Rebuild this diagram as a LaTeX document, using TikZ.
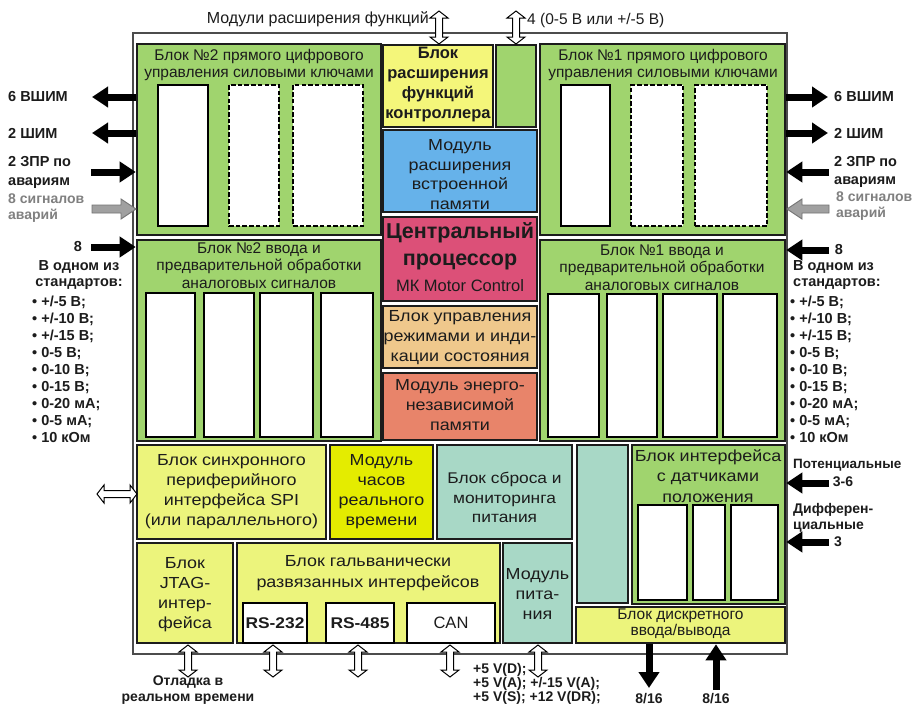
\documentclass[tikz,border=0pt]{standalone}
\usepackage{fontspec}
\setmainfont{Liberation Sans}
\newfontfamily\sw[FakeStretch=1.12]{Liberation Sans}
\usetikzlibrary{arrows.meta}
\definecolor{cgreen}{HTML}{A0D46E}
\definecolor{cyel}{HTML}{F4F67A}
\definecolor{cspi}{HTML}{ECF47C}
\definecolor{cclk}{HTML}{E4EC00}
\definecolor{cblue}{HTML}{66B2EA}
\definecolor{cpink}{HTML}{DC5078}
\definecolor{ctan}{HTML}{EFC88C}
\definecolor{corg}{HTML}{E8846A}
\definecolor{cteal}{HTML}{A8D8C6}
\definecolor{cdark}{HTML}{1C1C1C}
\definecolor{cgray}{HTML}{A0A0A0}
\newcommand\fs[2]{\fontsize{#1}{#2}\selectfont}
\newcommand\bx[7]{\node[#6, minimum width={(#4-#2)*1pt}, minimum height={(#5-#3)*1pt}] (#1) at ({(#2+#4)/2},{(#3+#5)/2}) {#7};}
\newcommand\dblv[3]{\draw[hol] (#1,#2) -- ++(9,7) -- ++(-5.5,0) -- ({#1+3.5},{#3-7}) -- ++(5.5,0) -- (#1,#3) -- ++(-9,-7) -- ++(5.5,0) -- ({#1-3.5},{#2+7}) -- ++(-5.5,0) -- cycle;}
\newcommand\dblh[3]{\draw[hol] (#1,#3) -- ++(7,-9) -- ++(0,5.5) -- ({#2-7},{#3-3.5}) -- ++(0,-5.5) -- (#2,#3) -- ++(-7,9) -- ++(0,-5.5) -- ({#1+7},{#3+3.5}) -- ++(0,5.5) -- cycle;}
\begin{document}
\begin{tikzpicture}[x=1pt,y=-1pt,
  blk/.style={draw=cdark, line width=2.6pt, inner sep=0pt, align=center, text=cdark},
  wbox/.style={draw=black, line width=2.8pt, fill=white, inner sep=0pt, text=cdark},
  dbox/.style={wbox, dash pattern=on 4.5pt off 2.2pt},
  bt/.style={inner sep=0pt, align=center, text=cdark},
  ttl/.style={bt, font=\fs{15.5}{16.5}},
  lab/.style={inner sep=0pt, align=left, text=cdark, font=\bfseries\fs{14.5}{16.5}},
  barr/.style={draw=black, line width=7pt, -{Triangle[width=20pt,length=16pt]}},
  gar/.style={draw=black!55, fill=cgray, line width=0.9pt, line join=miter},
  hol/.style={draw=black, fill=white, line width=1pt, line join=miter}]
\useasboundingbox (0,0) rectangle (914,707);
\fill[white] (0,0) rectangle (914,707);
\bx{frame}{133}{33}{787}{654}{draw=black!70, line width=1.8pt, fill=white}{}
% upper part
\bx{d2}{137}{44}{381}{235}{blk, fill=cgreen}{}
\bx{d1}{540}{44}{785}{235}{blk, fill=cgreen}{}
\bx{ext}{383}{45}{493}{127}{blk, fill=cyel}{}
\bx{gsm}{496}{45}{536}{127}{blk, fill=cgreen}{}
\bx{mem}{383}{130}{537}{212}{blk, fill=cblue}{}
\bx{cpu}{383}{217}{537}{301}{blk, fill=cpink}{}
\bx{mode}{383}{306}{537}{368}{blk, fill=ctan}{}
\bx{nvm}{383}{373}{537}{440}{blk, fill=corg}{}
\bx{a2}{137}{240}{381}{441}{blk, fill=cgreen}{}
\bx{a1}{540}{240}{785}{441}{blk, fill=cgreen}{}
% lower part
\bx{spi}{137}{445}{326}{539}{blk, fill=cspi}{}
\bx{rtc}{330}{445}{433}{539}{blk, fill=cclk}{}
\bx{rst}{437}{445}{572}{539}{blk, fill=cteal}{}
\bx{tt}{577}{445}{628}{603}{blk, fill=cteal}{}
\bx{sens}{632}{445}{785}{604}{blk, fill=cgreen}{}
\bx{dio}{576}{607}{785}{643}{blk, fill=cspi}{}
\bx{jtag}{137}{543}{233}{643}{blk, fill=cspi}{}
\bx{gal}{237}{543}{500}{643}{blk, fill=cspi}{}
\bx{pwr}{503}{543}{572}{643}{blk, fill=cteal}{}
\bx{rs232}{243}{603}{307}{643}{wbox, font=\bfseries\sw\fs{15.5}{18}}{RS-232}
\bx{rs485}{326}{603}{394}{643}{wbox, font=\bfseries\sw\fs{15.5}{18}}{RS-485}
\bx{can}{407}{603}{495}{643}{wbox, font=\fs{16.5}{18}}{CAN}
% inner channels
\bx{d2c1}{158}{85}{208}{226}{wbox}{}
\bx{d2c2}{229}{85}{279}{226}{dbox}{}
\bx{d2c3}{293}{85}{363}{226}{dbox}{}
\bx{d1c1}{561}{85}{610}{226}{wbox}{}
\bx{d1c2}{631}{85}{683}{226}{dbox}{}
\bx{d1c3}{695}{85}{767}{226}{dbox}{}
\bx{a2c1}{146}{293}{195}{437}{wbox}{}
\bx{a2c2}{204}{293}{254}{437}{wbox}{}
\bx{a2c3}{260}{293}{313}{437}{wbox}{}
\bx{a2c4}{321}{293}{373}{437}{wbox}{}
\bx{a1c1}{548}{294}{599}{437}{wbox}{}
\bx{a1c2}{607}{294}{657}{437}{wbox}{}
\bx{a1c3}{663}{294}{717}{437}{wbox}{}
\bx{a1c4}{723}{294}{777}{437}{wbox}{}
\bx{sc1}{638}{505}{687}{600}{wbox}{}
\bx{sc2}{693}{505}{725}{600}{wbox}{}
\bx{sc3}{731}{505}{778}{600}{wbox}{}
% block texts
\node[ttl] (d2t) at (259,65) {Блок №2 прямого цифрового\\управления силовыми ключами};
\node[ttl] (d1t) at (663,65) {Блок №1 прямого цифрового\\управления силовыми ключами};
\node[ttl, font=\fs{15.5}{17.5}] (a2t) at (259,265.5) {Блок №2 ввода и\\предварительной обработки\\аналоговых сигналов};
\node[ttl, font=\fs{15.5}{17.5}] (a1t) at (662,267.5) {Блок №1 ввода и\\предварительной обработки\\аналоговых сигналов};
\node[bt, font=\bfseries\fs{16.5}{20}] (extt) at (438,85) {Блок\\расширения\\функций\\контроллера};
\node[bt, font=\sw\fs{16}{19.7}] (memt) at (460,174.5) {Модуль\\расширения\\встроенной\\памяти};
\node[bt, font=\bfseries\fs{21.5}{27}] (cput) at (460,246.5) {Центральный\\процессор};
\node[bt, font=\fs{16.5}{18}] (cpus) at (460,286) {МК Motor Control};
\node[bt, font=\sw\fs{16}{20}] (modet) at (460,338) {Блок управления\\режимами и инди-\\кации состояния};
\node[bt, font=\sw\fs{16}{20}] (nvmt) at (460,405) {Модуль энерго-\\независимой\\памяти};
\node[bt, font=\sw\fs{16}{20}] (spit) at (231.5,492) {Блок синхронного\\периферийного\\интерфейса SPI\\(или параллельного)};
\node[bt, font=\sw\fs{16}{20}] (rtct) at (381.5,492) {Модуль\\часов\\реального\\времени};
\node[bt, font=\sw\fs{15.5}{19.5}] (rstt) at (504.5,497.5) {Блок сброса и\\мониторинга\\питания};
\node[bt, font=\sw\fs{16}{20.5}] (senst) at (708,476) {Блок интерфейса\\с датчиками\\положения};
\node[bt, font=\fs{15.5}{16}] (diot) at (680.5,624) {Блок дискретного\\ввода/вывода};
\node[bt, font=\sw\fs{16}{20}] (jtagt) at (185,595) {Блок\\JTAG-\\интер-\\фейса};
\node[bt, font=\sw\fs{16}{21}] (galt) at (368,573.5) {Блок гальванически\\развязанных интерфейсов};
\node[bt, font=\sw\fs{16}{20}] (pwrt) at (537.5,594) {Модуль\\пита-\\ния};
% outside labels
\node[bt, font=\fs{16}{18}, anchor=east] (topl) at (429,19) {Модули расширения функций};
\node[bt, font=\fs{15.5}{18}, anchor=west] (topr) at (527,20) {4 (0-5 В или +/-5 В)};
\node[lab, anchor=west] (l1) at (8,97) {6 ВШИМ};
\node[lab, anchor=west] (l2) at (8,133) {2 ШИМ};
\node[lab, anchor=west, font=\bfseries\fs{14.5}{19}] (l3) at (8,172.5) {2 ЗПР по\\авариям};
\node[lab, anchor=west, text=black!50, font=\bfseries\fs{14}{16}] (l4) at (8,208) {8 сигналов\\аварий};
\node[lab] (l5) at (78,247) {8};
\node[lab, align=center] (l6) at (79,275) {В одном из\\стандартов:};
\node[lab, anchor=north west, font=\bfseries\fs{14.5}{17}] (l7) at (32,295.5) {• +/-5 В;\\• +/-10 В;\\• +/-15 В;\\• 0-5 В;\\• 0-10 В;\\• 0-15 В;\\• 0-20 мА;\\• 0-5 мА;\\• 10 кОм};
\node[lab, anchor=west] (r1) at (834,97) {6 ВШИМ};
\node[lab, anchor=west] (r2) at (834,133) {2 ШИМ};
\node[lab, anchor=west, font=\bfseries\fs{14.5}{18}] (r3) at (834,171.5) {2 ЗПР по\\авариям};
\node[lab, anchor=west, text=black!50, font=\bfseries\fs{14}{16}] (r4) at (836,206) {8 сигналов\\аварий};
\node[lab] (r5) at (839,250) {8};
\node[lab, anchor=west] (r6) at (793,275) {В одном из\\стандартов:};
\node[lab, anchor=north west, font=\bfseries\fs{14.5}{17}] (r7) at (790,295.5) {• +/-5 В;\\• +/-10 В;\\• +/-15 В;\\• 0-5 В;\\• 0-10 В;\\• 0-15 В;\\• 0-20 мА;\\• 0-5 мА;\\• 10 кОм};
\node[lab, anchor=west, font=\bfseries\fs{13.5}{16}] (r8) at (793,465) {Потенциальные};
\node[lab, font=\bfseries\fs{14}{16}] (r9) at (843,482) {3-6};
\node[lab, anchor=west, font=\bfseries\fs{14}{16}] (r10) at (793,518) {Дифферен-\\циальные};
\node[lab, font=\bfseries\fs{14}{16}] (r11) at (838,542) {3};
\node[lab, align=center, font=\bfseries\fs{14}{16}] (b1) at (188,690) {Отладка в\\реальном времени};
\node[lab, anchor=west, font=\bfseries\fs{14}{14}] (b2) at (473,684) {+5 V(D);\\+5 V(A); +/-15 V(A);\\+5 V(S); +12 V(DR);};
\node[lab, font=\bfseries\fs{14}{16}] (b3) at (649,699) {8/16};
\node[lab, font=\bfseries\fs{14}{16}] (b4) at (716,699) {8/16};
% black arrows
\coordinate (pL1) at (92,97);  \draw[barr] (pL1 -| d2.west) -- (pL1);
\coordinate (pL2) at (92,133); \draw[barr] (pL2 -| d2.west) -- (pL2);
\coordinate (pL3) at (91,172); \draw[barr] (pL3) -- (pL3 -| d2.west);
\coordinate (pL4) at (91,247); \draw[barr] (pL4) -- (pL4 -| a2.west);
\coordinate (pR1) at (828,97);  \draw[barr] (pR1 -| d1.east) -- (pR1);
\coordinate (pR2) at (828,133); \draw[barr] (pR2 -| d1.east) -- (pR2);
\coordinate (pR3) at (829,172); \draw[barr] (pR3) -- (pR3 -| d1.east);
\coordinate (pR4) at (829,250); \draw[barr] (pR4) -- (pR4 -| a1.east);
\coordinate (pR5) at (829,483); \draw[barr] (pR5) -- (pR5 -| sens.east);
\coordinate (pR6) at (829,542); \draw[barr] (pR6) -- (pR6 -| sens.east);
\coordinate (pB1) at (649,688); \draw[barr] (pB1 |- dio.south) -- (pB1);
\coordinate (pB2) at (716,690); \draw[barr] (pB2) -- (pB2 |- dio.south);
% gray arrows
\draw[gar] (92,205) -- (121,205) -- (121,199) -- (136,209) -- (121,219) -- (121,213) -- (92,213) -- cycle;
\draw[gar] (829,205) -- (802,205) -- (802,199) -- (787,209) -- (802,219) -- (802,213) -- (829,213) -- cycle;
% hollow double arrows
\dblv{439}{11}{44}
\dblv{516}{11}{44}
\dblv{188}{645}{677}
\dblv{273}{645}{677}
\dblv{358}{645}{677}
\dblv{450}{645}{677}
\dblv{538}{645}{677}
\dblh{97}{137}{494}
\end{tikzpicture}
\end{document}
